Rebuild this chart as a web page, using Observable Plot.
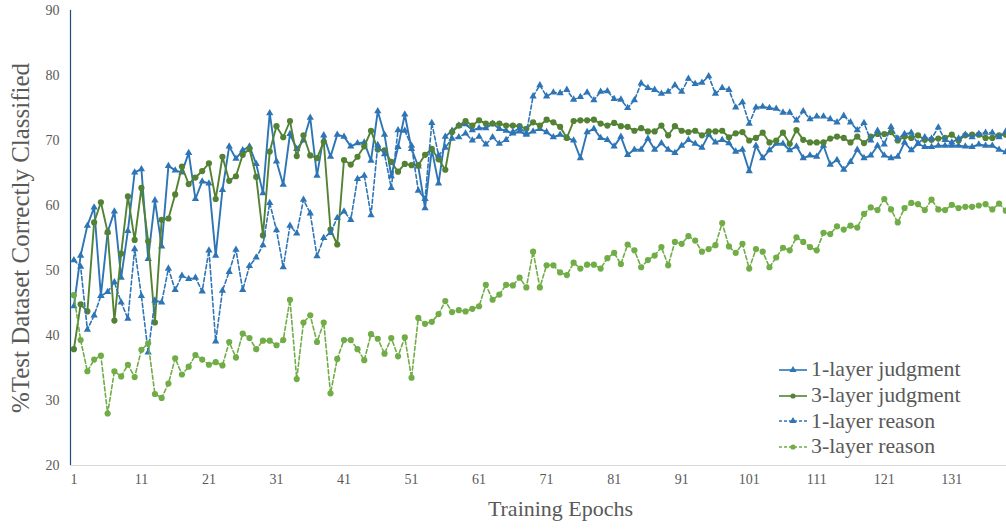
<!DOCTYPE html>
<html><head><meta charset="utf-8">
<script src="https://cdn.jsdelivr.net/npm/d3@7"></script>
<script src="https://cdn.jsdelivr.net/npm/@observablehq/plot@0.6"></script>
<style>
body{margin:0;background:#fff;}
#wrap{position:relative;width:1006px;height:529px;font-family:"Liberation Serif","Times New Roman",serif;}
#legend{position:absolute;left:779px;top:357px;color:#595959;font-size:21.8px;}
#legend .row{display:flex;align-items:center;height:25.7px;white-space:nowrap;}
#legend svg{margin-right:3px;}
</style></head><body>
<div id="wrap"><div id="chart"></div><div id="legend"></div></div>
<script>
const epochs = d3.range(1, 140);

const judgment1 = [
 44.5,52.3,56.9,59.7,46.1,55.9,59.1,48.9,56.1,65.1,
 65.6,51.8,60.8,53.7,66.1,65.4,65.1,68.1,61.0,63.7,
 63.4,52.3,62.4,69.1,67.2,68.5,69.1,66.4,61.9,74.2,
 66.8,63.2,71.0,68.7,70.0,73.5,64.6,70.8,67.5,70.9,
 70.6,69.1,69.6,69.7,66.9,74.5,70.9,64.5,69.0,74.0,
 68.7,66.0,59.6,68.6,63.4,70.6,71.5,72.3,72.5,71.6,
 71.9,71.9,72.6,71.8,71.5,71.1,71.4,70.9,71.4,71.8,
 71.3,70.5,70.9,70.4,70.0,67.3,71.3,71.8,70.4,70.1,
 69.1,70.6,67.8,68.6,68.6,70.3,68.6,69.6,68.6,68.1,
 69.2,70.1,69.5,68.9,70.9,69.7,70.1,69.6,68.3,68.6,
 65.3,69.2,67.3,68.5,69.5,69.5,68.5,69.1,67.3,67.7,
 67.5,69.2,66.3,67.0,65.5,66.7,68.6,67.3,67.7,69.2,
 67.7,67.3,67.5,69.7,68.5,69.5,69.0,69.0,69.2,69.2,
 69.2,69.2,69.1,69.0,69.4,69.2,69.2,68.6,68.2];

const judgment3 = [
 37.9,44.8,43.7,57.4,60.5,55.9,42.3,52.6,61.4,54.7,
 62.7,54.5,42.0,57.8,58.0,61.7,66.0,63.3,64.3,65.3,
 66.5,61.0,67.5,63.8,64.5,67.8,68.7,64.4,55.4,68.3,
 72.2,70.5,73.0,67.6,70.8,67.7,67.3,69.8,56.3,54.0,
 67.0,66.3,67.5,69.1,71.5,68.6,68.5,66.7,65.2,66.4,
 66.2,66.2,67.8,68.7,67.1,65.5,71.3,72.3,73.0,72.3,
 73.1,72.6,72.6,72.6,72.3,72.3,72.2,71.8,72.8,72.3,
 73.2,72.8,72.1,70.4,73.0,73.1,73.1,73.2,72.6,72.3,
 72.7,72.2,72.1,71.5,71.9,71.4,71.4,72.3,70.8,72.2,
 71.5,71.3,71.5,70.8,71.4,71.4,71.5,70.5,71.1,71.3,
 70.0,70.4,71.2,69.7,70.0,71.2,69.5,71.6,70.1,69.7,
 69.7,69.7,70.3,70.6,70.4,69.7,70.6,69.6,70.6,71.0,
 71.0,71.3,70.0,70.6,70.4,70.8,70.1,70.1,70.3,70.4,
 70.9,70.0,70.8,70.9,70.9,70.4,70.4,70.8,70.9];

const reason1 = [
 51.6,50.6,40.9,43.1,46.1,46.7,48.2,45.1,42.6,53.3,
 46.1,37.4,45.4,45.1,50.3,47.0,49.2,48.7,48.9,46.8,
 53.1,39.1,46.9,49.8,53.2,47.0,50.7,52.0,53.9,60.4,
 56.2,50.5,56.9,55.7,60.9,58.8,52.2,55.0,55.8,58.1,
 59.1,57.8,64.1,64.6,58.5,69.3,67.9,62.7,71.6,71.5,
 69.2,62.3,61.0,72.7,67.7,68.9,70.3,70.5,71.1,70.0,
 70.6,69.4,70.5,69.5,70.1,71.3,71.9,71.1,76.8,78.5,
 76.8,77.4,77.3,77.8,76.3,76.7,77.4,76.2,77.5,77.6,
 76.4,76.3,75.0,76.2,78.8,78.1,77.8,77.2,77.5,78.5,
 77.5,79.5,78.7,78.9,79.9,77.2,78.1,77.8,75.1,75.9,
 72.6,75.1,75.2,75.0,74.9,74.3,74.3,73.1,74.5,73.3,
 73.7,73.7,73.3,72.8,73.8,72.8,71.6,72.7,70.0,71.5,
 69.4,72.1,70.3,71.0,71.2,69.5,70.5,70.3,72.0,70.1,
 69.7,70.3,70.9,70.5,71.0,71.2,71.2,70.5,71.4];

const reason3 = [
 46.2,39.3,34.5,36.3,36.9,28.0,34.5,33.7,35.5,33.6,
 37.8,38.8,31.0,30.4,32.6,36.5,34.0,35.2,37.0,36.3,
 35.5,35.9,35.4,39.0,36.6,40.3,39.6,37.9,39.2,39.2,
 38.5,39.3,45.5,33.3,42.0,43.1,39.0,42.0,31.1,36.4,
 39.3,39.3,37.9,36.2,40.2,39.5,37.2,39.6,36.8,39.7,
 33.5,42.7,41.8,42.1,43.3,45.3,43.6,43.9,43.7,44.1,
 44.5,47.8,45.5,46.3,47.8,47.7,48.9,47.4,52.9,47.4,
 50.8,50.8,49.7,49.3,51.2,50.3,50.9,50.9,50.3,51.9,
 52.7,51.0,54.0,53.1,50.5,51.6,52.3,53.6,50.8,54.4,
 54.1,55.3,54.6,52.9,53.3,53.9,57.3,53.7,52.7,54.1,
 50.3,53.3,52.9,50.5,52.0,53.5,53.1,55.1,54.4,53.6,
 53.1,55.8,55.6,56.8,56.3,56.9,56.6,58.7,59.7,59.3,
 61.0,59.4,57.4,59.6,60.4,60.2,59.3,60.9,59.4,59.3,
 60.1,59.6,59.8,59.8,60.0,60.2,59.4,60.3,59.2];

const seriesNames = ["1-layer judgment", "3-layer judgment", "1-layer reason", "3-layer reason"];
const seriesColors = ["#2E75B6", "#548235", "#2E75B6", "#70AD47"];
const seriesSymbols = ["triangle", "circle", "triangle", "circle"];
const seriesDashed = [false, false, true, true];
const seriesValues = [judgment1, judgment3, reason1, reason3];

const xTicks = [1, 11, 21, 31, 41, 51, 61, 71, 81, 91, 101, 111, 121, 131];
const yTicks = [20, 30, 40, 50, 60, 70, 80, 90];

const xTitle = "Training Epochs";
const yTitle = "%Test Dataset Correctly Classified";

const series = seriesNames.map((name, k) => ({
  name, color: seriesColors[k], symbol: seriesSymbols[k], dashed: seriesDashed[k],
  rows: epochs.map((e, i) => ({epoch: e, value: seriesValues[k][i]}))
}));

const marks = [
  Plot.ruleY([20], {stroke: "#D9D9D9", strokeWidth: 1}),
  Plot.ruleX([0.5], {stroke: "#1F4E79", strokeWidth: 1.2}),
  Plot.axisY(yTicks, {tickSize: 0, tickPadding: 11, fontSize: 14, label: null}),
  Plot.axisX(xTicks, {tickSize: 0, tickPadding: 9, fontSize: 14, label: null}),
  Plot.text([yTitle], {frameAnchor: "left", dx: -50, rotate: -90, textAnchor: "middle", fontSize: 25, fill: "#595959"}),
  Plot.text([xTitle], {frameAnchor: "bottom", dx: 22, dy: 50, fontSize: 22, fill: "#595959"})
];
for (const s of series) {
  marks.push(Plot.line(s.rows, {x: "epoch", y: "value", stroke: s.color,
    strokeWidth: s.dashed ? 1.6 : 1.9, strokeDasharray: s.dashed ? "4,2.5" : null}));
  marks.push(Plot.dot(s.rows, {x: "epoch", y: "value", fill: s.color, stroke: "none",
    symbol: s.symbol, r: s.symbol === "triangle" ? 2.7 : 3.1}));
}

const chart = Plot.plot({
  width: 1006, height: 529,
  marginLeft: 70, marginRight: 0, marginTop: 10, marginBottom: 64,
  x: {type: "linear", domain: [0.5, 139.1], axis: null},
  y: {domain: [20, 90], axis: null},
  style: {fontFamily: '"Liberation Serif","Times New Roman",serif', color: "#595959", background: "#fff"},
  marks
});
document.getElementById("chart").appendChild(chart);

// legend
const legend = d3.select("#legend");
series.forEach(s => {
  const row = legend.append("div").attr("class", "row");
  const svg = row.append("svg").attr("width", 29).attr("height", 14);
  svg.append("line").attr("x1", 0).attr("x2", 28).attr("y1", 7).attr("y2", 7)
    .attr("stroke", s.color).attr("stroke-width", 1.6)
    .attr("stroke-dasharray", s.dashed ? "3,2" : null);
  if (s.symbol === "triangle") {
    svg.append("path").attr("d", d3.symbol(d3.symbolTriangle, 22)()).attr("transform", "translate(14,7)").attr("fill", s.color);
  } else {
    svg.append("circle").attr("cx", 14).attr("cy", 7).attr("r", 2.6).attr("fill", s.color);
  }
  row.append("span").text(s.name);
});
</script>
</body></html>
